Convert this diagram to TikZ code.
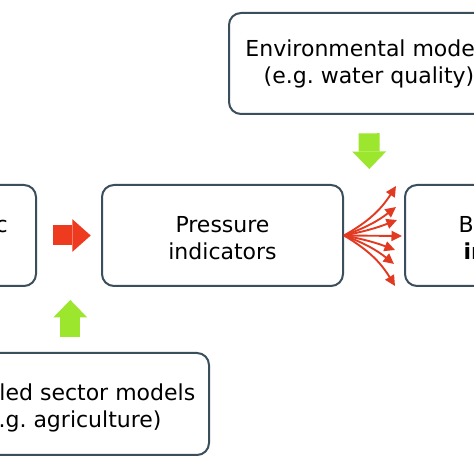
\documentclass[tikz,border=0pt]{standalone}
\usepackage{fontspec}
\setmainfont{DejaVu Sans}
\usetikzlibrary{arrows.meta}
\definecolor{boxline}{HTML}{3B4E5C}
\definecolor{arrred}{HTML}{EE3A1E}
\definecolor{fanred}{HTML}{E23A22}
\definecolor{lime}{HTML}{9CE62E}
\begin{document}
\begin{tikzpicture}[x=1pt,y=1pt,
  box/.style={draw=boxline, line width=2pt, rounded corners=12pt, minimum width=241pt, minimum height=101pt, inner sep=0pt},
  wide/.style={box, minimum width=280pt},
  txt/.style={font=\fontsize{22}{27}\selectfont, inner sep=0pt, anchor=base},
  fan/.style={draw=fanred, line width=1.9pt, -{Triangle[length=10.5pt,width=10pt]}},
  redblock/.style={draw=arrred, line width=20pt, -{Triangle[length=18.4pt,width=32.7pt,line width=0pt]}},
  greenblock/.style={draw=lime, line width=21pt, -{Triangle[length=17.5pt,width=34pt,line width=0pt]}}]
\useasboundingbox (0,0) rectangle (474,474);
\fill[white] (0,0) rectangle (474,474);
\clip (0,0) rectangle (474,474);
% boxes
\node[wide] (env) at (369,410.5) {};
\node[box] (left) at (-84.5,238.5) {};
\node[box] (press) at (222.5,238.5) {};
\node[box] (bio) at (525.5,238.5) {};
\node[wide, minimum height=102pt] (sector) at (69,70) {};
% texts
\node[txt] (envA) at (369,417.3) {Environmental models};
\node[txt] (envB) at (369,390.3) {(e.g.\ water quality)};
\node[txt] (pA) at (222.5,241) {Pressure};
\node[txt] (pB) at (222.5,214) {indicators};
\node[txt] (sA) at (69,73) {Coupled sector models};
\node[txt] (sB) at (69,46) {(e.g.\ agriculture)};
\node[txt] (bA) at (523.5,241) {Biodiversity};
\node[txt, font=\fontsize{22}{27}\selectfont\bfseries] (bB) at (525.5,214) {indicators};
\node[txt, anchor=base east] (lA) at (8,241) {Socio-economic};
% block arrows
\draw[redblock, shorten <=15.7pt, shorten >=10.3pt] (left.east) -- (press.west);
\coordinate (gdown) at (369.3,305);
\draw[greenblock, shorten <=18.3pt] (env.south) -- (gdown);
\coordinate (gup) at (70.3,174);
\draw[greenblock, line width=20pt, shorten <=14.7pt] (sector.north -| gup) -- (gup);
% fan arrows
\coordinate (f1) at (396,288);
\coordinate (f2) at (396,267);
\coordinate (f3) at (397,254);
\coordinate (f4) at (402,238);
\coordinate (f5) at (395,224);
\coordinate (f6) at (394,210);
\coordinate (f7) at (395,188);
\draw[fan] (press.east) to[bend right=14] (f1);
\draw[fan] (press.east) to[bend right=9] (f2);
\draw[fan] (press.east) to[bend right=5] (f3);
\draw[fan] (press.east) -- (f4);
\draw[fan] (press.east) to[bend left=5] (f5);
\draw[fan] (press.east) to[bend left=9] (f6);
\draw[fan] (press.east) to[bend left=14] (f7);
\end{tikzpicture}
\end{document}
